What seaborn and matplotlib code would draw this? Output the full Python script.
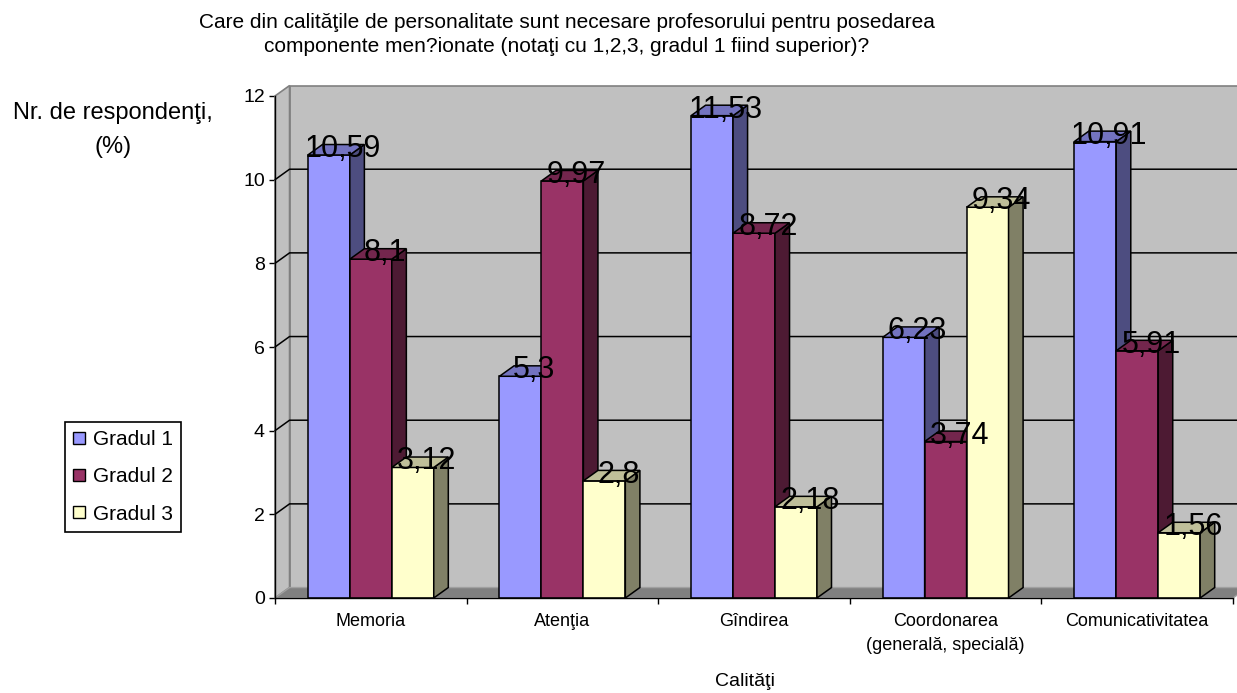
import numpy as np
import pandas as pd
import matplotlib
matplotlib.use("Agg")
import matplotlib.pyplot as plt
from matplotlib.patches import Polygon, Patch
import seaborn as sns

# Survey results: share of respondents (%) per quality and rank
categories = ["Memoria", "Atenţia", "Gîndirea",
              "Coordonarea\n(generală, specială)", "Comunicativitatea"]
series_names = ["Gradul 1", "Gradul 2", "Gradul 3"]
gradul1 = [10.59, 5.3, 11.53, 6.23, 10.91]
gradul2 = [8.1, 9.97, 8.72, 3.74, 5.91]
gradul3 = [3.12, 2.8, 2.18, 9.34, 1.56]
y_ticks = [0, 2, 4, 6, 8, 10, 12]

title = ("Care din calităţile de personalitate sunt necesare profesorului pentru posedarea\n"
         "componente men?ionate (notaţi cu 1,2,3, gradul 1 fiind superior)?")
y_title = "Nr. de respondenţi,\n(%)"
x_title = "Calităţi"

# Face colours for the pseudo-3D columns: front, top, side
front_colors = ["#9999FF", "#993366", "#FFFFCC"]
top_colors = ["#7373BF", "#73264D", "#BFBF99"]
side_colors = ["#4D4D80", "#4D1A33", "#808066"]

sns.set_theme(style="white")
plt.rcParams["font.family"] = ["Liberation Sans", "DejaVu Sans"]
plt.rcParams["text.color"] = "black"
plt.rcParams["xtick.color"] = "black"
plt.rcParams["ytick.color"] = "black"
plt.rcParams["xtick.labelcolor"] = "black"
plt.rcParams["ytick.labelcolor"] = "black"

df = pd.DataFrame({
    "Calitate": categories * 3,
    "Grad": [s for s in series_names for _ in categories],
    "Valoare": gradul1 + gradul2 + gradul3,
})

W, H = 1237, 693
fig = plt.figure(figsize=(W / 100, H / 100), dpi=100)
fig.patch.set_facecolor("white")
ax = fig.add_axes([275 / W, (H - 598) / H, 958 / W, 502 / H])

sns.barplot(data=df, x="Calitate", y="Valoare", hue="Grad", order=categories,
            hue_order=series_names, palette=front_colors, saturation=1,
            width=0.657, edgecolor="black", linewidth=1.1, legend=False, ax=ax)

ax.set_xlim(-0.5, 4.5)
ax.set_ylim(0, 12)
ax.patch.set_visible(False)

# depth offset of the 3D box, in data units
dx, dy = 0.076, 0.25
x0, x1 = -0.5, 4.5

# back wall, left wall and floor
ax.add_patch(Polygon([(x0 + dx, dy), (x1 + dx, dy), (x1 + dx, 12 + dy), (x0 + dx, 12 + dy)],
                     closed=True, facecolor="#C0C0C0", edgecolor="#808080", lw=1.2,
                     zorder=0.5, clip_on=False))
ax.add_patch(Polygon([(x0, 0), (x0 + dx, dy), (x0 + dx, 12 + dy), (x0, 12)],
                     closed=True, facecolor="#C0C0C0", edgecolor="#808080", lw=1.2,
                     zorder=0.6, clip_on=False))
ax.add_patch(Polygon([(x0, 0), (x1, 0), (x1 + dx, dy), (x0 + dx, dy)],
                     closed=True, facecolor="#808080", edgecolor="#A0A0A0", lw=1.0,
                     zorder=0.7, clip_on=False))
for v in y_ticks[1:-1]:
    ax.plot([x0, x0 + dx, x1 + dx], [v, v + dy, v + dy], color="black", lw=1.1,
            zorder=0.8, clip_on=False)

# sides and tops of the columns, plus value labels
containers = [c for c in ax.containers][:3]
for k, cont in enumerate(containers):
    for rect in cont.patches:
        bx, bw, bh = rect.get_x(), rect.get_width(), rect.get_height()
        rect.set_zorder(3 + 2 * k)
        side = Polygon([(bx + bw, 0), (bx + bw, bh), (bx + bw + dx, bh + dy), (bx + bw + dx, dy)],
                       closed=True, facecolor=side_colors[k], edgecolor="black", lw=1.1,
                       zorder=3.5 + 2 * k, clip_on=False)
        top = Polygon([(bx, bh), (bx + bw, bh), (bx + bw + dx, bh + dy), (bx + dx, bh + dy)],
                      closed=True, facecolor=top_colors[k], edgecolor="black", lw=1.1,
                      zorder=3.6 + 2 * k, clip_on=False)
        ax.add_patch(side)
        ax.add_patch(top)
        ax.annotate(f"{bh:g}".replace(".", ","), xy=(bx + bw / 2, bh),
                    xytext=(14, 6), textcoords="offset pixels",
                    ha="center", va="center", fontsize=22, color="black",
                    zorder=20, annotation_clip=False)

# axes
for s in ["top", "right"]:
    ax.spines[s].set_visible(False)
for s in ["left", "bottom"]:
    ax.spines[s].set_color("black")
    ax.spines[s].set_linewidth(1.0)
    ax.spines[s].set_zorder(12)
ax.set_yticks(y_ticks)
ax.set_yticklabels([str(t) for t in y_ticks])
ax.tick_params(axis="y", which="major", direction="out", length=4.3, width=1.0,
               color="black", labelcolor="black", labelsize=14, pad=3, left=True)
ax.set_xticks(range(len(categories)))
ax.set_xticklabels(categories, fontsize=13, linespacing=1.55, color="black")
ax.set_xticks(np.arange(-0.5, 5, 1.0), minor=True)
ax.tick_params(axis="x", which="major", length=0, pad=11)
ax.tick_params(axis="x", which="minor", direction="out", length=4.3, width=1.0,
               color="black", bottom=True)
ax.set_xlabel("")
ax.set_ylabel("")
ax.grid(False)

fig.text(567 / W, 1 - 34.5 / H, title, ha="center", va="center", fontsize=15,
         linespacing=1.3, color="black")
fig.text(113 / W, 1 - 130 / H, y_title, ha="center", va="center", fontsize=17,
         linespacing=1.7, color="black")
fig.text(745 / W, 1 - 681 / H, x_title, ha="center", va="center", fontsize=14,
         color="black")

handles = [Patch(facecolor=c, edgecolor="black", linewidth=1.0) for c in front_colors]
leg = fig.legend(handles, series_names, loc="upper left",
                 bbox_to_anchor=(65 / W, 1 - 422 / H), frameon=True, fancybox=False,
                 framealpha=1, edgecolor="black", fontsize=15, handlelength=0.55,
                 handleheight=0.55, handletextpad=0.4, borderpad=0.4,
                 labelspacing=0.87, borderaxespad=0)
leg.get_frame().set_linewidth(1.2)
for t in leg.get_texts():
    t.set_color("black")

fig.savefig("out.png", dpi=100, facecolor="white")
